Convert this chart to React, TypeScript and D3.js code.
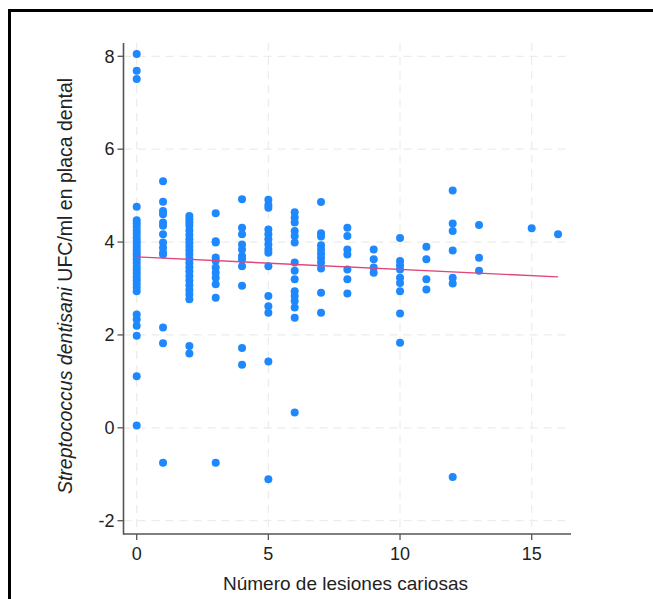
import React from "react";
import * as d3 from "d3";

const lesionCounts = [0, 1, 2, 3, 4, 5, 6, 7, 8, 9, 10, 11, 12, 13, 15, 16];
const ufc0 = [8.05, 7.69, 7.51, 4.76, 4.47, 4.4, 4.33, 4.25, 4.18, 4.1, 4.03, 3.97, 3.9, 3.83, 3.76, 3.7, 3.63, 3.55, 3.47, 3.4, 3.33, 3.25, 3.18, 3.1, 3.02, 2.94, 2.44, 2.33, 2.2, 1.98, 1.11, 0.05];
const ufc1 = [5.31, 4.87, 4.67, 4.6, 4.42, 4.35, 4.17, 3.99, 3.88, 3.77, 3.73, 2.16, 1.82, -0.75];
const ufc2 = [4.56, 4.49, 4.42, 4.35, 4.25, 4.15, 4.06, 3.98, 3.9, 3.82, 3.73, 3.64, 3.55, 3.46, 3.37, 3.27, 3.17, 3.07, 2.97, 2.87, 2.77, 1.76, 1.6];
const ufc3 = [4.62, 4.02, 3.99, 3.67, 3.6, 3.45, 3.34, 3.23, 3.09, 2.8, -0.75];
const ufc4 = [4.92, 4.31, 4.17, 3.95, 3.84, 3.7, 3.63, 3.48, 3.06, 1.72, 1.36];
const ufc5 = [4.91, 4.8, 4.74, 4.27, 4.17, 4.06, 3.95, 3.84, 3.77, 3.48, 2.84, 2.62, 2.48, 1.43, -1.11];
const ufc6 = [4.64, 4.53, 4.42, 4.24, 4.13, 3.99, 3.56, 3.38, 3.2, 2.94, 2.84, 2.73, 2.59, 2.37, 0.33];
const ufc7 = [4.86, 4.19, 4.12, 3.93, 3.84, 3.75, 3.66, 3.56, 3.43, 2.91, 2.48];
const ufc8 = [4.31, 4.13, 3.84, 3.73, 3.41, 3.2, 2.89];
const ufc9 = [3.84, 3.63, 3.45, 3.34];
const ufc10 = [4.09, 3.59, 3.5, 3.41, 3.23, 3.12, 2.94, 2.46, 1.83];
const ufc11 = [3.9, 3.63, 3.2, 2.98];
const ufc12 = [5.11, 4.4, 4.24, 3.82, 3.23, 3.11, -1.06];
const ufc13 = [4.37, 3.66, 3.38];
const ufc15 = [4.3];
const ufc16 = [4.17];
const ufcByLesion = [ufc0, ufc1, ufc2, ufc3, ufc4, ufc5, ufc6, ufc7, ufc8, ufc9, ufc10, ufc11, ufc12, ufc13, ufc15, ufc16];

const xTicks = [0, 5, 10, 15];
const yTicks = [-2, 0, 2, 4, 6, 8];
const fitX = [0, 16];
const fitY = [3.68, 3.25];

const xTitle = "Número de lesiones cariosas";

export default function App() {
  const W = 653, H = 599;
  const x = d3.scaleLinear().domain([0, 15]).range([136.7, 531.7]);
  const y = d3.scaleLinear().domain([-2, 8]).range([520.7, 56.3]);
  const left = 123.5, right = 571, top = 43, bottom = 534;
  const gridRight = 568;
  const points: [number, number][] = [];
  lesionCounts.forEach((c, i) => ufcByLesion[i].forEach((v) => points.push([c, v])));
  const line = d3.line<number>().x((_, i) => x(fitX[i])).y((d) => y(d));
  const font = "Arial, 'Liberation Sans', sans-serif";
  return (
    <svg width={W} height={H} style={{ position: "absolute", left: 0, top: 0, background: "#fff" }}>
      <rect x={0} y={0} width={W} height={H} fill="#fff" />
      {/* frame */}
      <line x1={8} x2={W} y1={10.5} y2={10.5} stroke="#000" strokeWidth={3} />
      <line x1={9.5} x2={9.5} y1={9} y2={H} stroke="#000" strokeWidth={3} />
      {/* grid */}
      {xTicks.map((t) => (
        <line key={"gx" + t} x1={x(t)} x2={x(t)} y1={top} y2={bottom} stroke="#ececec" strokeWidth={1.2} strokeDasharray="8,6" />
      ))}
      {yTicks.map((t) => (
        <line key={"gy" + t} x1={left} x2={gridRight} y1={y(t)} y2={y(t)} stroke="#ececec" strokeWidth={1.2} strokeDasharray="8,6" />
      ))}
      {/* axes */}
      <line x1={left} x2={left} y1={top} y2={bottom + 0.5} stroke="#555" strokeWidth={1.6} />
      <line x1={left - 0.5} x2={right} y1={bottom} y2={bottom} stroke="#555" strokeWidth={1.6} />
      {yTicks.map((t) => (
        <g key={"ty" + t}>
          <line x1={left - 6} x2={left} y1={y(t)} y2={y(t)} stroke="#555" strokeWidth={1.3} />
          <text x={left - 9} y={y(t)} dy="0.35em" textAnchor="end" fontFamily={font} fontSize={18} fill="#222">{t}</text>
        </g>
      ))}
      {xTicks.map((t) => (
        <g key={"tx" + t}>
          <line x1={x(t)} x2={x(t)} y1={bottom} y2={bottom + 6} stroke="#555" strokeWidth={1.3} />
          <text x={x(t)} y={bottom + 26} textAnchor="middle" fontFamily={font} fontSize={18} fill="#222">{t}</text>
        </g>
      ))}
      {/* points */}
      {points.map(([c, v], i) => (
        <circle key={i} cx={x(c)} cy={y(v)} r={4} fill="#1e88ff" />
      ))}
      {/* fit line */}
      <path d={line(fitY) || ""} fill="none" stroke="#e0457b" strokeWidth={1.4} />
      {/* titles */}
      <text x={(213 + 478) / 2} y={590} textAnchor="middle" fontFamily={font} fontSize={19} fill="#222">{xTitle}</text>
      <text transform={`translate(72, 286) rotate(-90)`} textAnchor="middle" fontFamily={font} fontSize={19.5} fill="#222">
        <tspan fontStyle="italic">Streptococcus dentisani</tspan>
        <tspan> UFC/ml en placa dental</tspan>
      </text>
    </svg>
  );
}
